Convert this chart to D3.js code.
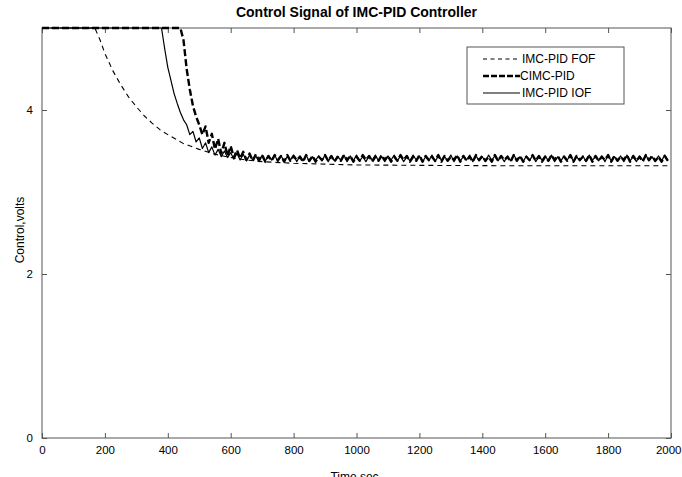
<!DOCTYPE html>
<html>
<head>
<meta charset="utf-8">
<script src="https://cdn.jsdelivr.net/npm/d3@7"></script>
<style>
  html, body { margin: 0; padding: 0; background: #fff; }
  svg { display: block; }
  text { font-family: "Liberation Sans", Arial, sans-serif; }
</style>
</head>
<body>
<svg id="chart" width="682" height="477"></svg>
<script>
// ---------------- data ----------------
const chartTitle = "Control Signal of IMC-PID Controller";
const xLabel = "Time,sec";
const yLabel = "Control,volts";
const xTicks = [0, 200, 400, 600, 800, 1000, 1200, 1400, 1600, 1800, 2000];
const yTicks = [0, 2, 4];
const seriesNames = ["IMC-PID FOF", "CIMC-PID", "IMC-PID IOF"];

// IMC-PID FOF (smooth decay)
const fofTime = [0, 168, 185, 200, 225, 250, 275, 300, 325, 350, 375, 400, 450, 500, 550, 600, 650, 700, 800, 900, 1000, 1200, 1500, 2000];
const fofValues = [5, 5, 4.85, 4.69, 4.48, 4.31, 4.16, 4.04, 3.93, 3.84, 3.76, 3.70, 3.59, 3.52, 3.46, 3.42, 3.39, 3.37, 3.35, 3.34, 3.33, 3.325, 3.32, 3.32];

// shared time grid for the oscillating controllers: 0, then 380..2000 every 10 s
const gridTime = [0].concat(d3.range(380, 2001, 10));

// IMC-PID IOF
const iofValues = [5,
  5.00, 4.75, 4.52, 4.36, 4.20, 4.08, 3.97, 3.88, 3.82, 3.70, 3.74, 3.61, 3.66, 3.53, 3.60, 3.48, 3.55, 3.45, 3.52, 3.43, 3.50,
  3.42, 3.48, 3.40, 3.47, 3.39, 3.46, 3.38, 3.45, 3.39, 3.44, 3.37, 3.45, 3.38, 3.44, 3.39, 3.45, 3.37, 3.44, 3.38, 3.43,
  3.39, 3.45, 3.37, 3.44, 3.38, 3.45, 3.37, 3.43, 3.39, 3.44, 3.38, 3.45, 3.37, 3.44, 3.38, 3.43, 3.39, 3.45, 3.37, 3.44,
  3.38, 3.45, 3.38, 3.43, 3.37, 3.44, 3.39, 3.45, 3.38, 3.43, 3.37, 3.44, 3.39, 3.45, 3.38, 3.44, 3.37, 3.43, 3.38, 3.45,
  3.39, 3.44, 3.37, 3.43, 3.38, 3.45, 3.37, 3.44, 3.39, 3.43, 3.38, 3.45, 3.37, 3.44, 3.38, 3.43, 3.39, 3.45, 3.37, 3.44,
  3.38, 3.43, 3.37, 3.45, 3.39, 3.44, 3.38, 3.43, 3.37, 3.44, 3.38, 3.45, 3.39, 3.43, 3.37, 3.44, 3.38, 3.45, 3.37, 3.43,
  3.39, 3.44, 3.38, 3.45, 3.37, 3.43, 3.38, 3.44, 3.39, 3.45, 3.37, 3.43, 3.38, 3.44, 3.37, 3.45, 3.39, 3.43, 3.38, 3.44,
  3.37, 3.45, 3.38, 3.43, 3.39, 3.44, 3.37, 3.45, 3.38, 3.43, 3.37, 3.44, 3.39, 3.45, 3.38, 3.43, 3.37, 3.44, 3.38, 3.45,
  3.39];

// CIMC-PID
const cimcValues = [5,
  5.00, 5.00, 5.00, 5.00, 5.00, 5.00, 5.00, 4.85, 4.50, 4.25, 4.05, 3.92, 3.82, 3.70, 3.80, 3.60, 3.71, 3.52, 3.65, 3.47, 3.60,
  3.44, 3.56, 3.42, 3.51, 3.41, 3.49, 3.39, 3.47, 3.38, 3.46, 3.39, 3.45, 3.37, 3.44, 3.38, 3.45, 3.39, 3.44, 3.37, 3.45,
  3.38, 3.44, 3.39, 3.43, 3.37, 3.45, 3.38, 3.44, 3.37, 3.43, 3.39, 3.45, 3.38, 3.44, 3.37, 3.43, 3.38, 3.45, 3.39, 3.44,
  3.37, 3.43, 3.38, 3.45, 3.39, 3.44, 3.37, 3.43, 3.38, 3.45, 3.39, 3.44, 3.37, 3.43, 3.38, 3.45, 3.39, 3.44, 3.37, 3.43,
  3.38, 3.45, 3.37, 3.44, 3.39, 3.43, 3.38, 3.45, 3.37, 3.44, 3.38, 3.43, 3.39, 3.45, 3.37, 3.44, 3.38, 3.43, 3.37, 3.45,
  3.39, 3.44, 3.38, 3.43, 3.37, 3.45, 3.38, 3.44, 3.39, 3.43, 3.37, 3.45, 3.38, 3.44, 3.37, 3.43, 3.39, 3.45, 3.38, 3.44,
  3.37, 3.43, 3.38, 3.45, 3.39, 3.44, 3.37, 3.43, 3.38, 3.45, 3.37, 3.44, 3.39, 3.43, 3.38, 3.45, 3.37, 3.44, 3.38, 3.43,
  3.39, 3.45, 3.37, 3.44, 3.38, 3.43, 3.39, 3.45, 3.37, 3.44, 3.38, 3.43, 3.37, 3.45, 3.39, 3.44, 3.38, 3.43, 3.37, 3.44,
  3.38];

// ---------------- layout ----------------
const W = 682, H = 477;
const m = { left: 42, right: 11, top: 28, bottom: 39 };
const pw = W - m.left - m.right, ph = H - m.top - m.bottom;

const svg = d3.select("#chart");
const x = d3.scaleLinear().domain([0, 2000]).range([m.left, m.left + pw]);
const y = d3.scaleLinear().domain([0, 5]).range([m.top + ph, m.top]);

const axisColor = "#555";
const tickLen = 5;

// plot box
svg.append("rect")
  .attr("x", m.left).attr("y", m.top).attr("width", pw).attr("height", ph)
  .attr("fill", "#fff").attr("stroke", axisColor).attr("stroke-width", 1);

// axes (inward ticks, MATLAB style)
function styleAxis(g, labels) {
  g.select(".domain").remove();
  g.selectAll(".tick line").attr("stroke", axisColor);
  g.selectAll(".tick text").attr("fill", "#000").style("font-size", "11.5px")
    .style("font-family", "'Liberation Sans', Arial, sans-serif");
  if (!labels) g.selectAll(".tick text").remove();
}
svg.append("g").attr("transform", `translate(0,${m.top + ph})`)
  .call(d3.axisBottom(x).tickValues(xTicks).tickFormat(d3.format("d")).tickSizeInner(-tickLen).tickPadding(8))
  .call(g => styleAxis(g, true))
  .call(g => g.selectAll(".tick text").filter(d => d === 2000).attr("text-anchor", "end").attr("dx", "10"));
svg.append("g").attr("transform", `translate(0,${m.top})`)
  .call(d3.axisTop(x).tickValues(xTicks).tickSizeInner(-tickLen))
  .call(g => styleAxis(g, false));
svg.append("g").attr("transform", `translate(${m.left},0)`)
  .call(d3.axisLeft(y).tickValues(yTicks).tickFormat(d3.format("d")).tickSizeInner(-tickLen).tickPadding(9))
  .call(g => styleAxis(g, true));
svg.append("g").attr("transform", `translate(${m.left + pw},0)`)
  .call(d3.axisRight(y).tickValues(yTicks).tickSizeInner(-tickLen))
  .call(g => styleAxis(g, false));

// clip
svg.append("clipPath").attr("id", "clip").append("rect")
  .attr("x", m.left).attr("y", m.top - 2).attr("width", pw).attr("height", ph + 2);

const line = d3.line().x(d => x(d[0])).y(d => y(d[1]));
const plot = svg.append("g").attr("clip-path", "url(#clip)");

const styles = [
  { dash: "5,4", width: 1.1 },
  { dash: "7,3", width: 2.4 },
  { dash: null, width: 1.2 }
];

const fofData = fofTime.map((t, i) => [t, fofValues[i]]);
const cimcData = gridTime.map((t, i) => [t, cimcValues[i]]);
const iofData = gridTime.map((t, i) => [t, iofValues[i]]);
const allData = [fofData, cimcData, iofData];

allData.forEach((data, i) => {
  plot.append("path").datum(data)
    .attr("d", line)
    .attr("fill", "none")
    .attr("stroke", "#000")
    .attr("stroke-width", styles[i].width)
    .attr("stroke-linejoin", "round")
    .attr("stroke-dasharray", styles[i].dash);
});

// legend
const lg = svg.append("g");
lg.append("rect").attr("x", 467).attr("y", 47).attr("width", 157).attr("height", 57)
  .attr("fill", "#fff").attr("stroke", axisColor).attr("stroke-width", 1);
const legendY = [59, 76, 93];
seriesNames.forEach((name, i) => {
  lg.append("line").attr("x1", 483).attr("x2", 520)
    .attr("y1", legendY[i]).attr("y2", legendY[i])
    .attr("stroke", "#000").attr("stroke-width", styles[i].width)
    .attr("stroke-dasharray", i === 0 ? "4,3.5" : (i === 1 ? "6,2" : null));
  lg.append("text").attr("x", i === 1 ? 520 : 522).attr("y", legendY[i] + 4)
    .style("font-size", "12px").attr("fill", "#000").text(name);
});

// title & labels
svg.append("text").attr("x", m.left + pw / 2).attr("y", 17)
  .attr("text-anchor", "middle").style("font-size", "14px").style("font-weight", "bold")
  .text(chartTitle);
svg.append("text").attr("x", m.left + pw / 2 - 2).attr("y", 481)
  .attr("text-anchor", "middle").style("font-size", "12px").text(xLabel);
svg.append("text").attr("transform", `translate(24,230) rotate(-90)`)
  .attr("text-anchor", "middle").style("font-size", "12px").text(yLabel);
</script>
</body>
</html>
